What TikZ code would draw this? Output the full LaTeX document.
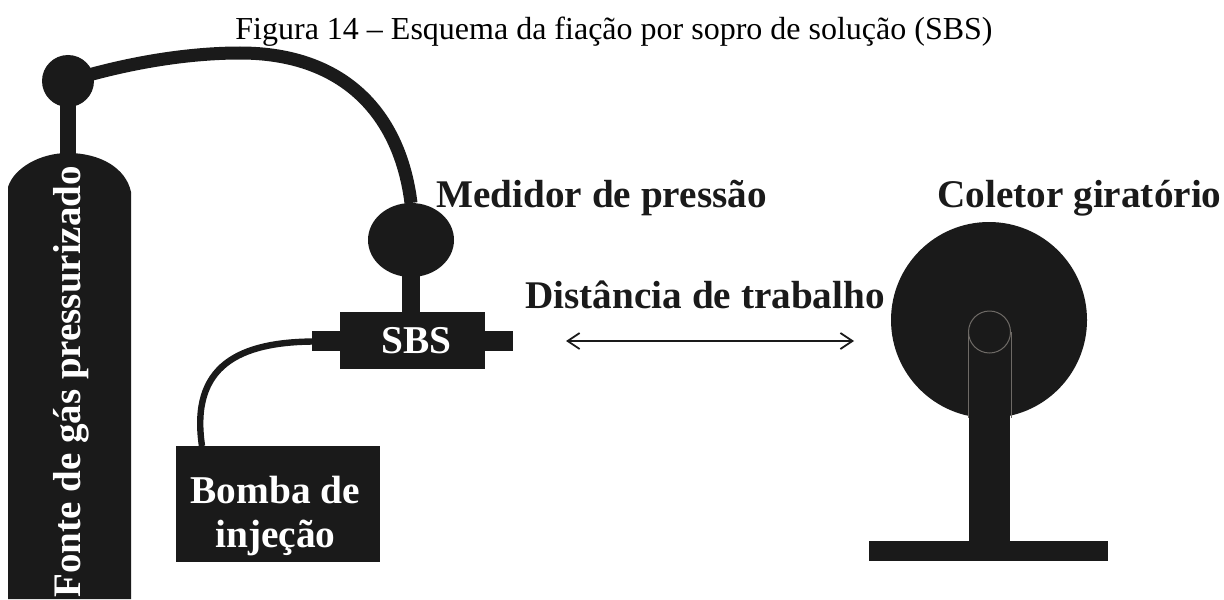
\documentclass[tikz,border=0pt]{standalone}
\usepackage{fontspec}
\setmainfont{Liberation Serif}
\usetikzlibrary{arrows.meta, shapes.geometric}
\definecolor{partblack}{HTML}{1A1A1A}
\definecolor{seamgray}{HTML}{6E6A66}
\tikzset{
    part/.style={fill=partblack, draw=none, inner sep=0pt, outer sep=0pt},
    partlabel/.style={inner sep=0pt, text=white, font=\bfseries\fontsize{19.7}{22}\selectfont, align=center},
    blacklabel/.style={inner sep=0pt, text=partblack, font=\bfseries\fontsize{19.6}{21}\selectfont},
}
\begin{document}
\begin{tikzpicture}[x=0.5pt, y=-0.5pt]
    \useasboundingbox (0,0) rectangle (1224,599);
    \node[inner sep=0pt, anchor=base, font=\fontsize{16}{18}\selectfont] (title) at (614,40) {Figura 14 -- Esquema da fiação por sopro de solução (SBS)};
    % gas cylinder
    \fill[partblack] (60,160) rectangle (76,100);
    \fill[partblack] (8,599) -- (8,187) .. controls (14,168) and (40,153) .. (68,153) .. controls (100,153) and (126,168) .. (131,192) -- (131,599) -- cycle;
    \node[partlabel, rotate=90, anchor=base west, font=\bfseries\fontsize{19.5}{22}\selectfont] (gaslabel) at (80,598) {Fonte de gás pressurizado};
    \node[part, circle, minimum size=26pt] (ball) at (68,81) {};
    % pressure gauge and die
    \node[part, ellipse, minimum width=43pt, minimum height=37pt] (gauge) at (411,240) {};
    \node[part, minimum width=72.5pt, minimum height=28.5pt] (sbs) at (412.5,340.5) {};
    \node[partlabel, anchor=base] (sbslabel) at (416.5,353) {SBS};
    \node[part, minimum width=14pt, minimum height=10pt] (inlet) at (326,341) {};
    \node[part, minimum width=14pt, minimum height=10pt] (outlet) at (499,341) {};
    \node[part, minimum width=102pt, minimum height=58pt] (pump) at (278,504) {};
    \node[partlabel, anchor=base] (pumplabel) at (275.5,547) {Bomba de\\injeção};
    \draw[partblack, line width=9pt] (gauge.south) ++(0,-2) -- (sbs.north -| gauge.south);
    \draw[partblack, line width=6.5pt] (ball.center) .. controls (130,62) and (190,53) .. (240,53) .. controls (345,53) and (400,115) .. (gauge.north);
    \draw[partblack, line width=3.2pt] (inlet.west) ++(2,0.5) .. controls (240,342) and (190,365) .. (202,446);
    % collector
    \node[part, circle, minimum size=98pt] (drum) at (989,320) {};
    \node[part, minimum width=119.5pt, minimum height=10pt] (base) at (988.5,551) {};
    \fill[partblack] (969,332) rectangle (1010,541);
    \node[circle, draw=seamgray, line width=0.5pt, minimum size=21pt, inner sep=0pt] (hub) at (989.5,332) {};
    \foreach \side in {west,east}{
        \draw[seamgray, line width=0.5pt] (hub.\side) -- (hub.\side |- drum.south);
    }
    % labels
    \node[blacklabel, anchor=base west] (gaugelabel) at (436,207) {Medidor de pressão};
    \node[blacklabel, anchor=base west] (drumlabel) at (937,207) {Coletor giratório};
    \node[blacklabel, anchor=base west] (distlabel) at (525,308) {Distância de trabalho};
    \coordinate (dista) at (566,341);
    \coordinate (distb) at (854,341);
    \draw[{Straight Barb[length=6pt,width=8pt]}-{Straight Barb[length=6pt,width=8pt]}, partblack, line width=0.9pt] (dista) -- (distb);
\end{tikzpicture}
\end{document}
